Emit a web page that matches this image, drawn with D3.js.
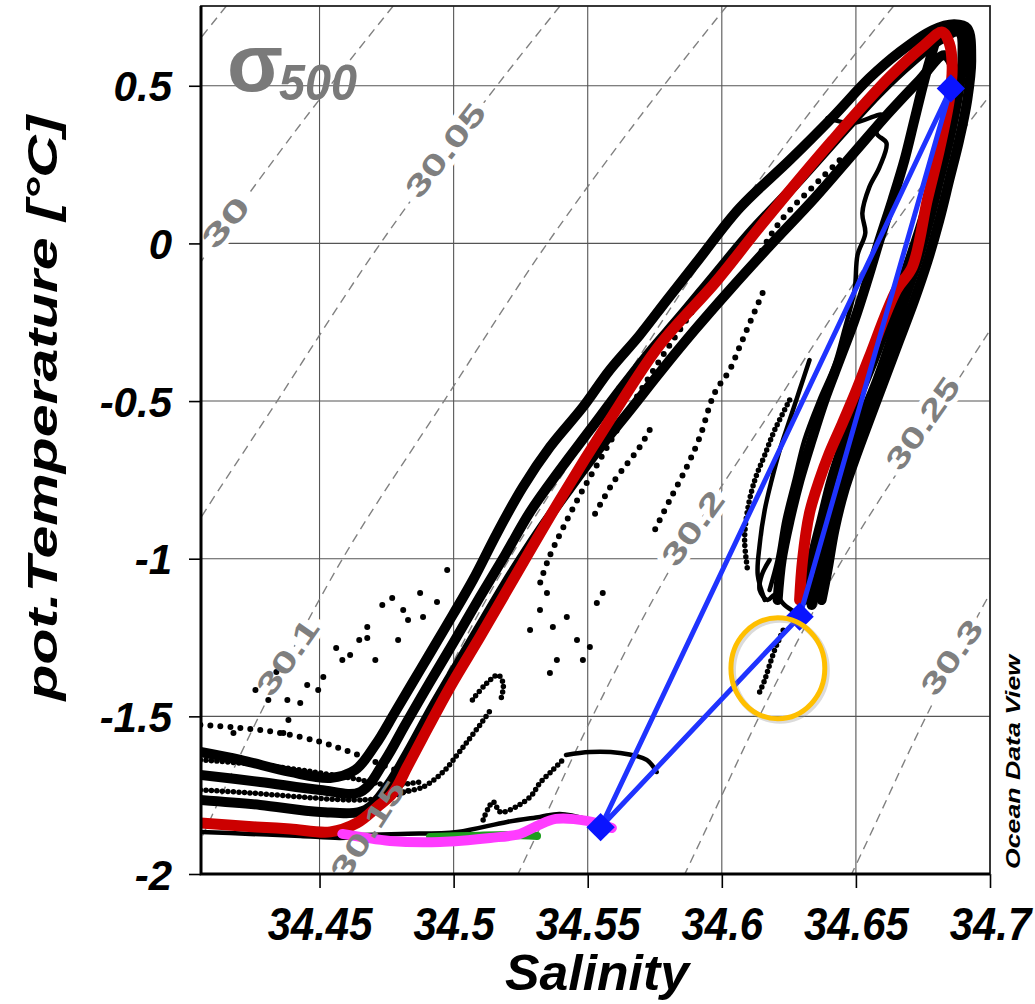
<!DOCTYPE html>
<html>
<head>
<meta charset="utf-8">
<script src="https://cdn.jsdelivr.net/npm/d3@7"></script>
<style>
    html, body { margin: 0; padding: 0; background: #fff; }
    #chart { width: 1035px; height: 1004px; }
    text { font-family: "Liberation Sans", Arial, sans-serif; }
</style>
</head>
<body>
<div id="chart"></div>
<script>
// ticks
var salTicks = [34.45, 34.5, 34.55, 34.6, 34.65, 34.7];
var salMinor = [34.425, 34.475, 34.525, 34.575, 34.625, 34.675];
var tempTicks = [-2, -1.5, -1, -0.5, 0, 0.5];
var tempMinor = [-1.75, -1.25, -0.75, -0.25, 0.25];

// sigma-500 isopycnals, salinity read at these temperatures
var isoTemps = [-2.05, -1.9, -1.5, -1.0, -0.5, 0, 0.5, 0.8];
var sig2995 = [34.2102, 34.2186, 34.2408, 34.2720, 34.3098, 34.3483, 34.3917, 34.4197];
var sig3000 = [34.2724, 34.2808, 34.3030, 34.3342, 34.3720, 34.4105, 34.4539, 34.4819];
var sig3005 = [34.3346, 34.3430, 34.3652, 34.3964, 34.4342, 34.4727, 34.5161, 34.5441];
var sig3010 = [34.3968, 34.4052, 34.4274, 34.4586, 34.4964, 34.5349, 34.5783, 34.6063];
var sig3015 = [34.4590, 34.4674, 34.4896, 34.5208, 34.5586, 34.5971, 34.6405, 34.6685];
var sig3020 = [34.5212, 34.5296, 34.5518, 34.5830, 34.6208, 34.6593, 34.7027, 34.7307];
var sig3025 = [34.5834, 34.5918, 34.6140, 34.6452, 34.6830, 34.7215, 34.7649, 34.7929];
var sig3030 = [34.6456, 34.6540, 34.6762, 34.7074, 34.7452, 34.7837, 34.8271, 34.8551];

// isopycnal labels
var isoLabels = ['30', '30.05', '30.1', '30.15', '30.2', '30.25', '30.3'];
var isoLabelS = [34.4149, 34.4968, 34.4380, 34.4678, 34.5891, 34.6748, 34.6856];
var isoLabelT = [0.0675, 0.2958, -1.3117, -1.8600, -0.9027, -0.5698, -1.3117];

// CTD casts (salinity, pot. temperature)
var castBand1 = [[34.4056,-1.6129],[34.4205,-1.6382],[34.4391,-1.6763],[34.454,-1.6953],[34.4633,-1.67],[34.4708,-1.5907],[34.4782,-1.4861],[34.4875,-1.3529],[34.4968,-1.2197],[34.5072,-1.0675],[34.5162,-0.9185],[34.5258,-0.7727],[34.5359,-0.6459],[34.5482,-0.519],[34.5582,-0.4017],[34.5694,-0.2907],[34.5795,-0.1798],[34.5918,-0.0466],[34.6066,0.1119],[34.6253,0.2641],[34.6413,0.4004],[34.655,0.5241],[34.6662,0.6065],[34.6785,0.6763],[34.6867,0.6953],[34.6915,0.6826],[34.693,0.5812],[34.6915,0.4544],[34.6885,0.3275],[34.6848,0.2007],[34.6811,0.0739],[34.6766,-0.0593],[34.6718,-0.1798],[34.6662,-0.3066],[34.6606,-0.4334],[34.655,-0.5602],[34.6495,-0.6871],[34.6457,-0.7822],[34.642,-0.909],[34.6394,-1.0358],[34.6372,-1.131]];
var castBand2 = [[34.4056,-1.6858],[34.4279,-1.708],[34.4503,-1.7334],[34.4652,-1.7397],[34.4745,-1.6382],[34.4819,-1.5273],[34.4912,-1.391],[34.5005,-1.2578],[34.5098,-1.1214],[34.5192,-0.9883],[34.5285,-0.8519],[34.5396,-0.7188],[34.5508,-0.592],[34.562,-0.4651],[34.5731,-0.3446],[34.5843,-0.2337],[34.5973,-0.1005],[34.6104,0.0327],[34.629,0.2007],[34.6457,0.3592],[34.6588,0.4797],[34.6707,0.5748],[34.6811,0.6446],[34.6885,0.6699],[34.6897,0.5812],[34.6878,0.4544],[34.6848,0.3275],[34.6811,0.2007],[34.6774,0.0739],[34.6729,-0.0593],[34.6681,-0.1798],[34.6632,-0.3066],[34.658,-0.4334],[34.6521,-0.5602],[34.6476,-0.6871],[34.6431,-0.8139],[34.6394,-0.9407],[34.6357,-1.0675],[34.6335,-1.1468]];
var castBand3 = [[34.4056,-1.7651],[34.4279,-1.7809],[34.4503,-1.8031],[34.467,-1.7968],[34.4756,-1.7175],[34.483,-1.6129],[34.492,-1.4734],[34.5016,-1.3339],[34.5117,-1.188],[34.5218,-1.0453],[34.5322,-0.909],[34.5434,-0.7758],[34.5545,-0.649],[34.5664,-0.5222],[34.5776,-0.4017],[34.5899,-0.2749],[34.6029,-0.1481],[34.6178,-0.0086],[34.6346,0.1436],[34.6495,0.2895],[34.6625,0.4163],[34.6737,0.5178],[34.683,0.597],[34.6871,0.5336],[34.6848,0.4226],[34.6818,0.2958],[34.6781,0.169],[34.6737,0.0422],[34.6681,-0.1005],[34.6625,-0.2368],[34.6569,-0.3637],[34.6506,-0.4968],[34.6457,-0.6237],[34.6409,-0.7505],[34.6372,-0.8773],[34.6335,-1.0041],[34.6309,-1.131]];
var castBand4 = [[34.6792,0.6287],[34.6755,0.5178],[34.6718,0.3909],[34.6681,0.2641],[34.6636,0.1373],[34.6588,0.0105],[34.6543,-0.1164],[34.6495,-0.2432],[34.6439,-0.37],[34.6383,-0.4968],[34.6335,-0.6237],[34.629,-0.7505],[34.6253,-0.8773],[34.6223,-1.0041],[34.6208,-1.131]];
var castLeft1 = [[34.4056,-1.5273],[34.4205,-1.5368],[34.4354,-1.5526],[34.4503,-1.5812],[34.4614,-1.6129],[34.4708,-1.6446],[34.4782,-1.67]];
var castLeft2 = [[34.4056,-1.6382],[34.4242,-1.6509],[34.4428,-1.67],[34.4614,-1.6953],[34.4763,-1.7175],[34.4875,-1.708]];
var castLeft3 = [[34.4056,-1.7334],[34.4242,-1.7429],[34.4428,-1.7556],[34.4614,-1.7651],[34.4745,-1.7587],[34.4838,-1.7334]];
var castLeft4 = [[34.4056,-1.8665],[34.4242,-1.8729],[34.4428,-1.8792],[34.4577,-1.8856],[34.4689,-1.8792]];
var castKnee = [[34.4793,-1.7429],[34.4886,-1.7238],[34.4961,-1.6763],[34.5013,-1.6224],[34.505,-1.5812],[34.5098,-1.5273],[34.5143,-1.4734]];
var castPeak = [[34.507,-1.448],[34.512,-1.398],[34.5166,-1.369],[34.5185,-1.398],[34.5178,-1.44]];
var castInner1 = [[34.6394,0.3973],[34.6487,0.3814],[34.6599,0.4068],[34.6577,0.3497],[34.6614,0.318],[34.6588,0.2419],[34.655,0.1785],[34.6524,0.0961],[34.6535,0.0327],[34.6506,-0.0371],[34.6495,-0.1481],[34.6457,-0.2749],[34.642,-0.3859],[34.6364,-0.4968],[34.6308,-0.6237],[34.6271,-0.7505],[34.6234,-0.8773],[34.6208,-1.0041],[34.6178,-1.0993]];
var castInner2 = [[34.6327,-0.37],[34.629,-0.4651],[34.6253,-0.5602],[34.6216,-0.6554],[34.6186,-0.7505],[34.616,-0.8456],[34.6141,-0.9566],[34.6134,-1.0517],[34.616,-1.131]];
var castInner3 = [[34.6253,-0.4968],[34.6197,-0.592],[34.616,-0.6712],[34.6123,-0.7505],[34.6096,-0.8456],[34.6085,-0.9407],[34.6096,-1.0358]];
var castDeep = [[34.6178,-1.0041],[34.6149,-1.0517],[34.6141,-1.0993],[34.6171,-1.131],[34.6197,-1.1151],[34.6234,-1.1468],[34.6271,-1.169]];
var castCircle = [[34.6141,-1.4227],[34.616,-1.3846],[34.6178,-1.337],[34.6197,-1.2895],[34.6216,-1.2514],[34.6234,-1.2166]];
var castDiag1 = [[34.6152,-0.1576],[34.6104,-0.2527],[34.6066,-0.3288],[34.6029,-0.4017],[34.5973,-0.4746],[34.5918,-0.6142],[34.5869,-0.7093],[34.5806,-0.8139],[34.575,-0.909]];
var castDiag2 = [[34.6085,0.0105],[34.5992,-0.0847],[34.5918,-0.1798],[34.5843,-0.2749],[34.5769,-0.37],[34.5694,-0.4715],[34.562,-0.5761],[34.5545,-0.6871],[34.5471,-0.798],[34.5404,-0.909],[34.5352,-1.0041],[34.5314,-1.0993]];
var castDiag3 = [[34.6439,0.2641],[34.6383,0.2166],[34.6327,0.169],[34.6271,0.1214],[34.6216,0.0675],[34.6171,0.0105],[34.6134,-0.0466]];
var castDiag4 = [[34.5731,-0.592],[34.5694,-0.6459],[34.5649,-0.6966],[34.5601,-0.7505],[34.5556,-0.8139],[34.5515,-0.8773]];
var castBottom = [[34.4551,-1.8792],[34.4801,-1.8729],[34.5013,-1.8665],[34.5199,-1.8348],[34.5322,-1.819],[34.5396,-1.8095],[34.5508,-1.8285]];
var castBump = [[34.511,-1.8285],[34.5147,-1.7714],[34.5173,-1.8031],[34.521,-1.7968],[34.5285,-1.7556],[34.5322,-1.7112],[34.537,-1.67],[34.5407,-1.6382]];
var castFlat = [[34.5419,-1.6224],[34.5508,-1.6129],[34.562,-1.6161],[34.572,-1.6382],[34.5757,-1.6763]];
var scatterDots = [[34.4179,-1.5526],[34.4224,-1.6382],[34.4365,-1.5526],[34.4384,-1.5114],[34.438,-1.448],[34.4428,-1.4575],[34.4454,-1.4004],[34.4514,-1.3751],[34.4585,-1.3212],[34.4614,-1.3053],[34.4678,-1.2166],[34.4678,-1.2514],[34.4734,-1.1468],[34.4771,-1.1246],[34.4812,-1.1627],[34.483,-1.1944],[34.4875,-1.1088],[34.4886,-1.1849],[34.4938,-1.1373],[34.4976,-1.0358],[34.4261,-1.4163],[34.4309,-1.448],[34.4339,-1.3592],[34.4495,-1.4163],[34.4562,-1.2831],[34.4648,-1.2578],[34.4708,-1.3212],[34.4793,-1.2578],[34.5322,-1.1627],[34.5348,-1.1088],[34.537,-1.2166],[34.5422,-1.1849],[34.546,-1.2578],[34.5482,-1.3212],[34.5508,-1.28],[34.5534,-1.1405],[34.5556,-1.1088],[34.5359,-1.3624],[34.5385,-1.3212],[34.5285,-1.2261]];

// red, magenta and green curves
var redLine = [[34.4056,-1.838],[34.4264,-1.8507],[34.4391,-1.857],[34.454,-1.8665],[34.464,-1.838],[34.4715,-1.7873],[34.4774,-1.7429],[34.4827,-1.6604],[34.4886,-1.5653],[34.4987,-1.4068],[34.5098,-1.2483],[34.5217,-1.0739],[34.5396,-0.8139],[34.5582,-0.5602],[34.5768,-0.3224],[34.5977,-0.1227],[34.6141,0.0517],[34.6413,0.3275],[34.6625,0.5273],[34.6755,0.6287],[34.6822,0.67],[34.6848,0.6351],[34.6859,0.559],[34.6848,0.4543],[34.6811,0.2958],[34.6766,0.1373],[34.671,-0.0751],[34.6651,-0.1481],[34.655,-0.3605],[34.6502,-0.4651],[34.645,-0.5698],[34.6401,-0.6649],[34.6364,-0.7505],[34.6327,-0.8551],[34.6301,-1.0041],[34.629,-1.131]];
var greenLine = [[34.4912,-1.8824],[34.5061,-1.8792],[34.521,-1.876],[34.5311,-1.8792]];
var magentaLine = [[34.4585,-1.8729],[34.4763,-1.8951],[34.4949,-1.8983],[34.5136,-1.8856],[34.5247,-1.8729],[34.5311,-1.8475],[34.5381,-1.8253],[34.5497,-1.8316],[34.559,-1.8538]];

// water mass end members (blue) and the marked region
var stations = [[34.5548,-1.8516],[34.6290,-1.1839],[34.6854,0.4914]];
var circleCentre = [34.6209, -1.3475];
var circleRadius = [0.0175, 0.16];

var Chart = function() {

    var _Chart = function(opts) {
        this.element = opts.element;
        this.__init();
    }

    _Chart.prototype = {
        __init: function() {
            this.width = 1035;
            this.height = 1004;
            this.box = {left: 201, right: 990, top: 6, bottom: 874};

            this.svg = d3.select(this.element)
                .append('svg')
                .attr('width', this.width)
                .attr('height', this.height);

            var b = this.box;
            this.svg.append('defs').append('clipPath')
                .attr('id', 'plotclip')
                .append('rect')
                .attr('x', b.left).attr('y', b.top)
                .attr('width', b.right - b.left).attr('height', b.bottom - b.top);

            this.__createScales();
            this.__addGrid();
            this.__addIsopycnals();
            this.__addCasts();
            this.__addLines();
            this.__addAxes();
            this.__addTitles();
        },
        __createScales: function() {
            var b = this.box;
            this.xScale = d3.scaleLinear().domain([34.4058, 34.7]).range([b.left, b.right]);
            this.yScale = d3.scaleLinear().domain([-2, 0.753]).range([b.bottom, b.top]);
            var _this = this;
            this.line = d3.line()
                .x(function(d) { return _this.xScale(d[0]); })
                .y(function(d) { return _this.yScale(d[1]); })
                .curve(d3.curveCatmullRom.alpha(0.5));
        },
        __addGrid: function() {
            var _this = this, b = this.box;
            var g = this.svg.append('g').attr('class', 'grid')
                .style('stroke', '#555').style('stroke-width', 1.1);
            g.selectAll('.gx').data(salTicks.slice(0, -1)).enter().append('line')
                .attr('x1', function(d) { return _this.xScale(d); })
                .attr('x2', function(d) { return _this.xScale(d); })
                .attr('y1', b.top).attr('y2', b.bottom);
            g.selectAll('.gy').data(tempTicks.slice(1)).enter().append('line')
                .attr('y1', function(d) { return _this.yScale(d); })
                .attr('y2', function(d) { return _this.yScale(d); })
                .attr('x1', b.left).attr('x2', b.right);
        },
        __addIsopycnals: function() {
            var _this = this;
            var levels = [sig2995, sig3000, sig3005, sig3010, sig3015, sig3020, sig3025, sig3030];
            var g = this.svg.append('g').attr('clip-path', 'url(#plotclip)');
            var lineT = d3.line()
                .x(function(d) { return _this.xScale(d[0]); })
                .y(function(d) { return _this.yScale(d[1]); })
                .curve(d3.curveMonotoneY);
            levels.forEach(function(sal) {
                var pts = sal.map(function(s, i) { return [s, isoTemps[i]]; });
                g.append('path')
                    .attr('d', lineT(pts))
                    .style('fill', 'none')
                    .style('stroke', '#808080')
                    .style('stroke-width', 1.4)
                    .style('stroke-dasharray', '9 6');
            });
            // white gaps behind the labels
            this.__labels(g, true);
        },
        __labels: function(g, halo) {
            var _this = this;
            var angles = [-50, -52, -55, -57, -54, -55, -55];
            var lens = [57, 111, 86, 111, 85, 106, 85];
            g.selectAll(null).data(isoLabels).enter().append('text')
                .attr('transform', function(d, i) {
                    return 'translate(' + _this.xScale(isoLabelS[i]) + ',' + _this.yScale(isoLabelT[i]) + ') rotate(' + angles[i] + ')';
                })
                .attr('text-anchor', 'middle')
                .attr('dy', '0.36em')
                .attr('textLength', function(d, i) { return lens[i]; })
                .attr('lengthAdjust', 'spacingAndGlyphs')
                .style('font-size', '30px')
                .style('font-weight', 'bold')
                .style('fill', halo ? '#fff' : '#7f7f7f')
                .style('stroke', halo ? '#fff' : 'none')
                .style('stroke-width', halo ? 10 : 0)
                .text(function(d) { return d; });
        },
        __addCasts: function() {
            var _this = this;
            var g = this.svg.append('g').attr('clip-path', 'url(#plotclip)')
                .style('fill', 'none').style('stroke', '#000')
                .style('stroke-linecap', 'round').style('stroke-linejoin', 'round');

            var solidWide = [castBand1, castBand2, castBand3, castBand4];
            var solid = [castLeft4, castInner1, castInner2, castDeep, castBottom, castFlat];
            var dense = [castLeft2, castLeft3, castKnee, castInner3, castCircle, castBump, castPeak];
            var sparse = [castLeft1, castDiag1, castDiag2, castDiag3, castDiag4];

            solidWide.forEach(function(c) {
                g.append('path').attr('d', _this.line(c)).style('stroke-width', 10);
            });
            solid.forEach(function(c) {
                g.append('path').attr('d', _this.line(c)).style('stroke-width', 4.5);
            });
            dense.forEach(function(c) {
                g.append('path').attr('d', _this.line(c))
                    .style('stroke-width', 5.5).style('stroke-dasharray', '0 5.5');
            });
            sparse.forEach(function(c) {
                g.append('path').attr('d', _this.line(c))
                    .style('stroke-width', 6).style('stroke-dasharray', '0 10');
            });
            g.selectAll('circle').data(scatterDots).enter().append('circle')
                .attr('r', 3)
                .attr('cx', function(d) { return _this.xScale(d[0]); })
                .attr('cy', function(d) { return _this.yScale(d[1]); })
                .style('fill', '#000').style('stroke', 'none');
        },
        __addLines: function() {
            var _this = this;
            var g = this.svg.append('g').attr('clip-path', 'url(#plotclip)')
                .style('fill', 'none').style('stroke-linecap', 'round').style('stroke-linejoin', 'round');

            g.append('path').attr('d', this.line(redLine))
                .style('stroke', '#cc0000').style('stroke-width', 11);
            g.append('path').attr('d', this.line(greenLine))
                .style('stroke', '#1e9e1e').style('stroke-width', 8);
            g.append('path').attr('d', this.line(magentaLine))
                .style('stroke', '#ff3cff').style('stroke-width', 10);

            var tri = d3.line()
                .x(function(d) { return _this.xScale(d[0]); })
                .y(function(d) { return _this.yScale(d[1]); });
            g.append('path')
                .attr('d', tri([stations[0], stations[2], stations[1], stations[0]]))
                .style('stroke', '#1f33ff').style('stroke-width', 5);

            g.selectAll('.stn').data(stations).enter().append('path')
                .attr('d', d3.symbol().type(d3.symbolSquare).size(400))
                .attr('transform', function(d) {
                    return 'translate(' + _this.xScale(d[0]) + ',' + _this.yScale(d[1]) + ') rotate(45)';
                })
                .style('fill', '#0a14ff').style('stroke', 'none');

            var cx = this.xScale(circleCentre[0]), cy = this.yScale(circleCentre[1]);
            g.append('ellipse')
                .attr('cx', cx + 2).attr('cy', cy + 2)
                .attr('rx', this.xScale(circleCentre[0] + circleRadius[0]) - cx)
                .attr('ry', cy - this.yScale(circleCentre[1] + circleRadius[1]))
                .style('stroke', '#999').style('stroke-opacity', 0.35).style('stroke-width', 6);
            g.append('ellipse')
                .attr('cx', cx).attr('cy', cy)
                .attr('rx', this.xScale(circleCentre[0] + circleRadius[0]) - cx)
                .attr('ry', cy - this.yScale(circleCentre[1] + circleRadius[1]))
                .style('stroke', '#ffbf00').style('stroke-width', 5);

            // isopycnal labels on top
            this.__labels(g, false);
        },
        __addAxes: function() {
            var b = this.box;
            var xMajor = d3.axisBottom(this.xScale).tickValues(salTicks).tickSize(14)
                .tickFormat(function(d) { return String(+d.toFixed(2)); });
            var xMinor = d3.axisBottom(this.xScale).tickValues(salMinor).tickSize(9).tickFormat('');
            var yMajor = d3.axisLeft(this.yScale).tickValues(tempTicks).tickSize(12)
                .tickFormat(function(d) { return String(d); });
            var yMinor = d3.axisLeft(this.yScale).tickValues(tempMinor).tickSize(8).tickFormat('');

            var gx = this.svg.append('g').attr('transform', 'translate(0,' + b.bottom + ')');
            gx.call(xMinor);
            gx.call(xMajor);
            gx.selectAll('.domain').remove();
            gx.selectAll('line').style('stroke', '#000').style('stroke-width', 1.6);
            gx.selectAll('text')
                .attr('y', 66).attr('dy', null)
                .attr('transform', 'scale(0.91,1)')
                .style('font-size', '46px').style('font-weight', 'bold').style('font-style', 'italic')
                .style('fill', '#000');

            var gy = this.svg.append('g').attr('transform', 'translate(' + b.left + ',0)');
            gy.call(yMinor);
            gy.call(yMajor);
            gy.selectAll('.domain').remove();
            gy.selectAll('line').style('stroke', '#000').style('stroke-width', 1.6);
            gy.selectAll('text')
                .attr('x', -29).attr('dy', '0.36em')
                .style('font-size', '42px').style('font-weight', 'bold').style('font-style', 'italic')
                .style('fill', '#000');

            // frame
            this.svg.append('rect')
                .attr('x', b.left).attr('y', b.top)
                .attr('width', b.right - b.left).attr('height', b.bottom - b.top)
                .style('fill', 'none').style('stroke', '#222').style('stroke-width', 1.8);
            this.svg.append('path')
                .attr('d', 'M' + b.left + ',' + b.top + 'V' + b.bottom + 'H' + b.right)
                .style('fill', 'none').style('stroke', '#000').style('stroke-width', 3);
        },
        __addTitles: function() {
            var s = this.svg;
            s.append('text')
                .attr('x', 597).attr('y', 990)
                .attr('text-anchor', 'middle')
                .attr('textLength', 184).attr('lengthAdjust', 'spacingAndGlyphs')
                .style('font-size', '50px').style('font-weight', 'bold').style('font-style', 'italic')
                .text('Salinity');
            s.append('text')
                .attr('transform', 'translate(57,408) rotate(-90)')
                .attr('text-anchor', 'middle')
                .attr('textLength', 585).attr('lengthAdjust', 'spacingAndGlyphs')
                .style('font-size', '42px').style('font-weight', 'bold').style('font-style', 'italic')
                .text('pot.Temperature [°C]');
            s.append('text')
                .attr('x', 227).attr('y', 91)
                .style('font-size', '82px').style('font-weight', 'bold').style('fill', '#7a7a7a')
                .text('σ');
            s.append('text')
                .attr('x', 279).attr('y', 100)
                .attr('textLength', 78).attr('lengthAdjust', 'spacingAndGlyphs')
                .style('font-size', '50px').style('font-weight', 'bold').style('font-style', 'italic')
                .style('fill', '#7a7a7a')
                .text('500');
            s.append('text')
                .attr('transform', 'translate(1020,762) rotate(-90)')
                .attr('text-anchor', 'middle')
                .attr('textLength', 214).attr('lengthAdjust', 'spacingAndGlyphs')
                .style('font-size', '21px').style('font-weight', 'bold').style('font-style', 'italic')
                .text('Ocean Data View');
        }
    }

    return _Chart;
}.call(this);

new Chart({ element: document.getElementById('chart') });
</script>
</body>
</html>
